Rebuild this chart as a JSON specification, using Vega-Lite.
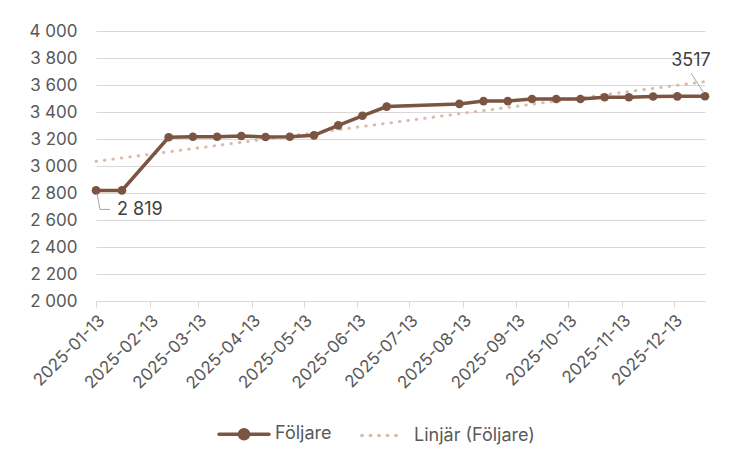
{
  "$schema": "https://vega.github.io/schema/vega-lite/v6.json",
  "width": 609,
  "height": 270,
  "autosize": {"type": "none"},
  "padding": {"left": 96, "top": 31, "right": 27, "bottom": 153},
  "background": "white",
  "config": {
    "view": {"stroke": null},
    "font": "Inter",
    "axis": {"labelFont": "Inter", "labelColor": "#595959"},
    "legend": {"labelFont": "Inter"}
  },
  "datasets": {
    "followers": [
      {"date": "2025-01-13", "value": 2819},
      {"date": "2025-01-28", "value": 2819},
      {"date": "2025-02-24", "value": 3213},
      {"date": "2025-03-10", "value": 3217},
      {"date": "2025-03-24", "value": 3217},
      {"date": "2025-04-07", "value": 3222},
      {"date": "2025-04-21", "value": 3215},
      {"date": "2025-05-05", "value": 3217},
      {"date": "2025-05-19", "value": 3227},
      {"date": "2025-06-02", "value": 3301},
      {"date": "2025-06-16", "value": 3372},
      {"date": "2025-06-30", "value": 3440},
      {"date": "2025-08-11", "value": 3460},
      {"date": "2025-08-25", "value": 3481},
      {"date": "2025-09-08", "value": 3481},
      {"date": "2025-09-22", "value": 3496},
      {"date": "2025-10-06", "value": 3496},
      {"date": "2025-10-20", "value": 3496},
      {"date": "2025-11-03", "value": 3509},
      {"date": "2025-11-17", "value": 3509},
      {"date": "2025-12-01", "value": 3515},
      {"date": "2025-12-15", "value": 3516},
      {"date": "2025-12-31", "value": 3517}
    ],
    "labels": [
      {"date": "2025-01-13", "value": 2819, "label": "2 819"},
      {"date": "2025-12-31", "value": 3517, "label": "3517"}
    ]
  },
  "data": {"name": "followers"},
  "encoding": {
    "x": {
      "field": "date",
      "type": "temporal",
      "title": null,
      "scale": {
        "type": "utc",
        "domain": [
          {"year": 2025, "month": 1, "date": 13, "utc": true},
          {"year": 2025, "month": 12, "date": 31, "utc": true}
        ]
      },
      "axis": {
        "values": [
          {"year": 2025, "month": 1, "date": 13, "utc": true},
          {"year": 2025, "month": 2, "date": 13, "utc": true},
          {"year": 2025, "month": 3, "date": 13, "utc": true},
          {"year": 2025, "month": 4, "date": 13, "utc": true},
          {"year": 2025, "month": 5, "date": 13, "utc": true},
          {"year": 2025, "month": 6, "date": 13, "utc": true},
          {"year": 2025, "month": 7, "date": 13, "utc": true},
          {"year": 2025, "month": 8, "date": 13, "utc": true},
          {"year": 2025, "month": 9, "date": 13, "utc": true},
          {"year": 2025, "month": 10, "date": 13, "utc": true},
          {"year": 2025, "month": 11, "date": 13, "utc": true},
          {"year": 2025, "month": 12, "date": 13, "utc": true}
        ],
        "format": "%Y-%m-%d",
        "labelAngle": -45,
        "labelFontSize": 17,
        "labelPadding": 5,
        "grid": false,
        "domainColor": "#D9D9D9",
        "domainWidth": 1,
        "tickColor": "#D9D9D9",
        "tickSize": 6,
        "labelOverlap": false,
        "labelBound": false,
        "labelFlush": false
      }
    },
    "y": {
      "field": "value",
      "type": "quantitative",
      "title": null,
      "scale": {"domain": [2000, 4000], "nice": false, "zero": false},
      "axis": {
        "values": [2000, 2200, 2400, 2600, 2800, 3000, 3200, 3400, 3600, 3800, 4000],
        "labelExpr": "replace(format(datum.value, ','), ',', ' ')",
        "labelFontSize": 17,
        "labelPadding": 19,
        "grid": true,
        "gridColor": "#D9D9D9",
        "gridWidth": 1,
        "domain": false,
        "ticks": false
      }
    }
  },
  "layer": [
    {
      "transform": [{"regression": "value", "on": "date"}],
      "mark": {"type": "line", "strokeWidth": 3, "strokeDash": [0.5, 8], "strokeCap": "round"},
      "encoding": {
        "color": {
          "datum": "Linjär (Följare)",
          "scale": {"domain": ["Följare", "Linjär (Följare)"], "range": ["#7B5442", "#D9BCAB"]},
          "legend": {
            "title": null,
            "orient": "none",
            "direction": "horizontal",
            "legendX": 121,
            "legendY": 376,
            "labelFontSize": 18,
            "labelColor": "#595959",
            "labelOffset": 4,
            "columnPadding": 22,
            "symbolSize": 2500,
            "symbolStrokeWidth": 3.5,
            "encode": {
              "symbols": {
                "update": {
                  "shape": {"signal": "datum.value === 'Följare' ? 'M-1,0L1,0M0.18,0A0.18,0.18,0,1,1,-0.18,0A0.18,0.18,0,1,1,0.18,0' : 'M-0.85,0L0.85,0'"},
                  "fill": {"signal": "datum.value === 'Följare' ? '#7B5442' : 'transparent'"},
                  "stroke": {"signal": "datum.value === 'Följare' ? '#7B5442' : '#D9BCAB'"},
                  "strokeDash": {"signal": "datum.value === 'Följare' ? [] : [0.5, 8]"},
                  "strokeCap": {"value": "round"},
                  "strokeWidth": {"value": 3.5},
                  "size": {"value": 2500},
                  "opacity": {"value": 1}
                }
              }
            }
          }
        }
      }
    },
    {
      "mark": {"type": "line", "strokeWidth": 3.5},
      "encoding": {"color": {"datum": "Följare"}}
    },
    {
      "mark": {"type": "point", "filled": true, "size": 75, "opacity": 1, "color": "#7B5442"}
    },
    {
      "data": {"name": "labels"},
      "transform": [{"filter": "datum.label === '2 819'"}],
      "mark": {"type": "rule", "color": "#A6A6A6", "strokeWidth": 1, "xOffset": 1, "yOffset": 3, "x2Offset": 4, "y2Offset": 19},
      "encoding": {"x2": {"field": "date"}, "y2": {"field": "value"}}
    },
    {
      "data": {"name": "labels"},
      "transform": [{"filter": "datum.label === '2 819'"}],
      "mark": {"type": "rule", "color": "#A6A6A6", "strokeWidth": 1, "xOffset": 4, "yOffset": 19, "x2Offset": 14, "y2Offset": 19},
      "encoding": {"x2": {"field": "date"}, "y2": {"field": "value"}}
    },
    {
      "data": {"name": "labels"},
      "transform": [{"filter": "datum.label === '3517'"}],
      "mark": {"type": "rule", "color": "#A6A6A6", "strokeWidth": 1, "xOffset": -14, "yOffset": -23, "x2Offset": -1, "y2Offset": -3},
      "encoding": {"x2": {"field": "date"}, "y2": {"field": "value"}}
    },
    {
      "data": {"name": "labels"},
      "transform": [{"filter": "datum.label === '2 819'"}],
      "mark": {"type": "text", "align": "left", "baseline": "middle", "dx": 21, "dy": 20, "fontSize": 18, "color": "#404040"},
      "encoding": {"text": {"field": "label"}}
    },
    {
      "data": {"name": "labels"},
      "transform": [{"filter": "datum.label === '3517'"}],
      "mark": {"type": "text", "align": "center", "baseline": "middle", "dx": -14, "dy": -35, "fontSize": 18, "color": "#404040"},
      "encoding": {"text": {"field": "label"}}
    }
  ]
}
